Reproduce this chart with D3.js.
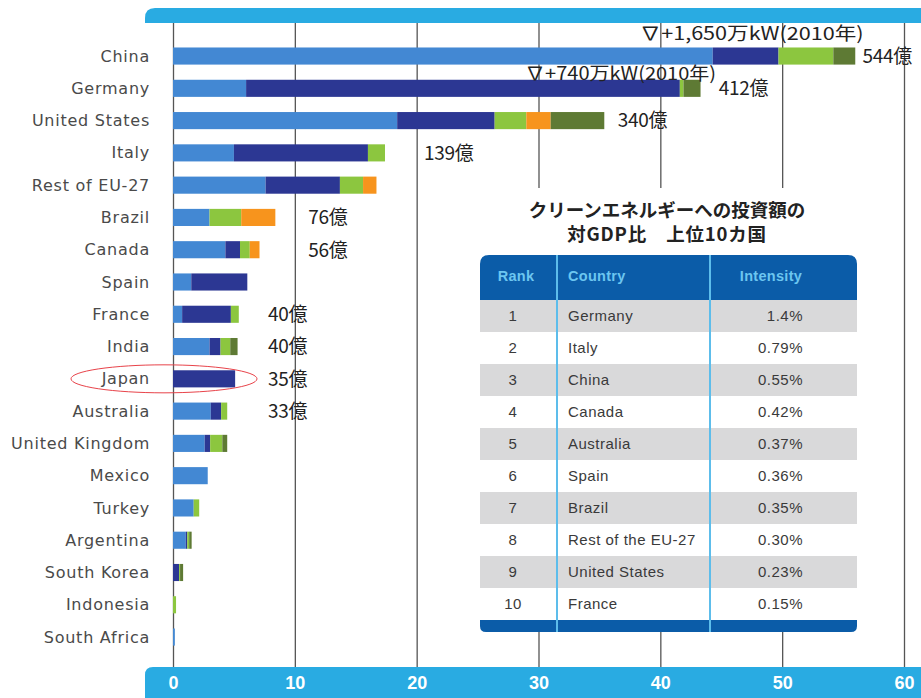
<!DOCTYPE html>
<html>
<head>
<meta charset="utf-8">
<script src="https://cdn.jsdelivr.net/npm/d3@7"></script>
<style>
body { margin: 0; background: #fff; }
text { font-family: "DejaVu Sans", sans-serif; }
</style>
</head>
<body>
<div class="chart-container"></div>
<script>
// Countries, top to bottom
const countries = ["China", "Germany", "United States", "Italy", "Rest of EU-27", "Brazil", "Canada", "Spain",
  "France", "India", "Japan", "Australia", "United Kingdom", "Mexico", "Turkey", "Argentina",
  "South Korea", "Indonesia", "South Africa"];
// stacked segments
const lightBlue = [44.3, 6.0, 18.4, 5.0, 7.6, 3.0, 4.3, 1.5, 0.75, 3.0, 0, 3.1, 2.6, 2.85, 1.7, 1.05, 0, 0, 0.15];
const darkBlue  = [5.4, 35.6, 8.0, 11.0, 6.1, 0, 1.2, 4.6, 4.0, 0.9, 5.1, 0.85, 0.45, 0, 0, 0.12, 0.5, 0, 0];
const green     = [4.5, 0.3, 2.6, 1.4, 1.9, 2.6, 0.8, 0, 0.65, 0.8, 0, 0.5, 1.0, 0, 0.45, 0.16, 0.08, 0.25, 0];
const orange    = [0, 0, 2.0, 0, 1.1, 2.8, 0.8, 0, 0, 0, 0, 0, 0, 0, 0, 0, 0, 0, 0];
const olive     = [1.8, 1.4, 4.4, 0, 0, 0, 0, 0, 0, 0.6, 0, 0, 0.4, 0, 0, 0.2, 0.25, 0, 0];
// investment labels
const valueLabels = [
  {country: "China", text: "544億"}, {country: "Germany", text: "412億"}, {country: "United States", text: "340億"},
  {country: "Italy", text: "139億"}, {country: "Brazil", text: "76億"}, {country: "Canada", text: "56億"},
  {country: "France", text: "40億"}, {country: "India", text: "40億"}, {country: "Japan", text: "35億"},
  {country: "Australia", text: "33億"}];
const notes = [
  {country: "China", text: "∇+1,650万kW(2010年)"},
  {country: "Germany", text: "∇+740万kW(2010年)"}];
const xTicks = [0, 10, 20, 30, 40, 50, 60];
// table: clean energy investment / GDP, top 10
const tableTitle = ["クリーンエネルギーへの投資額の", "対GDP比\u3000上位10カ国"];
const tableHeader = ["Rank", "Country", "Intensity"];
const tableRank = [1, 2, 3, 4, 5, 6, 7, 8, 9, 10];
const tableCountry = ["Germany", "Italy", "China", "Canada", "Australia", "Spain", "Brazil", "Rest of the EU-27", "United States", "France"];
const tableIntensity = ["1.4%", "0.79%", "0.55%", "0.42%", "0.37%", "0.36%", "0.35%", "0.30%", "0.23%", "0.15%"];

const width = 921, height = 698;
const svg = d3.select(".chart-container").append("svg").attr("width", width).attr("height", height);

const keys = ["lightBlue", "darkBlue", "green", "orange", "olive"];
const color = d3.scaleOrdinal().domain(keys).range(["#4388d3", "#2c3793", "#8cc63f", "#f7941d", "#5e7a34"]);
const rows = countries.map((c, i) => ({country: c, lightBlue: lightBlue[i], darkBlue: darkBlue[i], green: green[i], orange: orange[i], olive: olive[i]}));
const stacked = d3.stack().keys(keys)(rows);

const x = d3.scaleLinear().domain([0, 60]).range([173, 904]);
const y = d3.scaleBand().domain(countries).range([39.9, 653.2]).paddingInner(0.47).paddingOuter(0.235);
const bandColor = "#29abe2";
const axisTop = 23, axisBottom = 667;

// top band
svg.append("path")
  .attr("d", `M145,${axisTop} V18 Q145,8 155,8 H${width} V${axisTop} Z`)
  .attr("fill", bandColor);
// bottom band
svg.append("path")
  .attr("d", `M145,${height} V${axisBottom + 8} Q145,${axisBottom} 153,${axisBottom} H${width} V${height} Z`)
  .attr("fill", bandColor);

// grid + tick labels
const xAxis = svg.append("g")
  .attr("transform", `translate(0,${axisBottom})`)
  .call(d3.axisBottom(x).tickValues(xTicks).tickSize(-(axisBottom - axisTop)).tickPadding(9));
xAxis.select(".domain").remove();
xAxis.selectAll("line").attr("stroke", "#555").attr("stroke-width", 1.3);
xAxis.selectAll("text")
  .attr("fill", "#fff")
  .style("font-family", "'Liberation Sans', Arial, sans-serif")
  .style("font-weight", "bold")
  .style("font-size", "18px");

// bars
svg.append("g").selectAll("g")
  .data(stacked)
  .enter().append("g")
  .attr("fill", d => color(d.key))
  .selectAll("rect")
  .data(d => d)
  .enter().append("rect")
  .attr("x", d => x(d[0]))
  .attr("y", d => y(d.data.country))
  .attr("width", d => x(d[1]) - x(d[0]))
  .attr("height", y.bandwidth());

// country labels
svg.append("g").selectAll("text")
  .data(countries)
  .enter().append("text")
  .attr("x", 150)
  .attr("y", d => y(d) + y.bandwidth() / 2)
  .attr("dy", "0.35em")
  .attr("text-anchor", "end")
  .attr("fill", "#4a4a4a")
  .style("font-size", "16px")
  .style("letter-spacing", "0.75px")
  .text(d => d);

// Japan highlight
svg.append("ellipse")
  .attr("cx", 164)
  .attr("cy", y("Japan") + y.bandwidth() / 2)
  .attr("rx", 93).attr("ry", 14)
  .attr("fill", "none")
  .attr("stroke", "#e8434a")
  .attr("stroke-width", 1);

// value labels (placed in columns, not at bar end)
const labelAt = {"China": 56.6, "Germany": 44.8, "United States": 36.5, "Italy": 20.6, "Brazil": 11.1, "Canada": 11.1,
  "France": 7.8, "India": 7.8, "Japan": 7.8, "Australia": 7.8};
svg.append("g").selectAll("text")
  .data(valueLabels)
  .enter().append("text")
  .attr("x", d => x(labelAt[d.country]))
  .attr("y", d => y(d.country) + y.bandwidth() / 2)
  .attr("dy", "0.36em")
  .attr("fill", "#222")
  .style("font-family", "'Noto Sans CJK JP', sans-serif")
  .style("font-size", "19px")
  .style("letter-spacing", "-0.3px")
  .text(d => d.text);

// capacity notes above China / Germany
const noteAt = {"China": [38.3, -23], "Germany": [28.9, -15]};
svg.append("g").selectAll("text")
  .data(notes)
  .enter().append("text")
  .attr("x", d => x(noteAt[d.country][0]))
  .attr("y", d => y(d.country) + y.bandwidth() / 2 + noteAt[d.country][1])
  .attr("dy", "0.36em")
  .attr("fill", "#222")
  .attr("textLength", d => d.country === "China" ? 224 : 191)
  .attr("lengthAdjust", "spacingAndGlyphs")
  .style("font-family", "'Noto Sans CJK JP', sans-serif")
  .style("font-size", "18px")
  .text(d => d.text);

// TABLE
const tL = 480, tR = 857, tTop = 255, headH = 45, rowH = 32, tBottom = 632;
const colX = [557, 710];
const tbl = svg.append("g");
tbl.append("rect").attr("x", tL).attr("y", 188).attr("width", tR - tL).attr("height", tBottom - 188).attr("fill", "#fff");

tbl.selectAll(".ttl")
  .data(tableTitle)
  .enter().append("text")
  .attr("x", 667)
  .attr("y", (d, i) => 210 + i * 24)
  .attr("dy", "0.36em")
  .attr("text-anchor", "middle")
  .attr("fill", "#222")
  .style("font-family", "'Noto Sans CJK JP', sans-serif")
  .style("font-weight", "bold")
  .style("font-size", "18.5px")
  .style("letter-spacing", (d, i) => i ? "0.8px" : "0px")
  .text(d => d);

const tblBlue = "#0b5ca8";
tbl.append("path")
  .attr("d", `M${tL},${tTop + headH} V${tTop + 9} Q${tL},${tTop} ${tL + 9},${tTop} H${tR - 9} Q${tR},${tTop} ${tR},${tTop + 9} V${tTop + headH} Z`)
  .attr("fill", tblBlue);

const rowY = d3.scaleBand().domain(tableRank).range([tTop + headH, tTop + headH + rowH * 10]);
tbl.selectAll(".row")
  .data(tableRank)
  .enter().append("rect")
  .attr("x", tL).attr("width", tR - tL)
  .attr("y", d => rowY(d)).attr("height", rowY.bandwidth())
  .attr("fill", d => d % 2 ? "#d9d9da" : "#fff");

const footY = tTop + headH + rowH * 10;
tbl.append("path")
  .attr("d", `M${tL},${footY} H${tR} V${tBottom - 6} Q${tR},${tBottom} ${tR - 6},${tBottom} H${tL + 6} Q${tL},${tBottom} ${tL},${tBottom - 6} Z`)
  .attr("fill", tblBlue);

colX.forEach(cx => {
  tbl.append("line").attr("x1", cx).attr("x2", cx).attr("y1", tTop).attr("y2", tBottom)
    .attr("stroke", "#5dbdeb").attr("stroke-width", 2);
});

const headX = [516, 568, 771], headAnchor = ["middle", "start", "middle"];
tbl.selectAll(".hd")
  .data(tableHeader)
  .enter().append("text")
  .attr("x", (d, i) => headX[i])
  .attr("y", tTop + 21)
  .attr("dy", "0.35em")
  .attr("text-anchor", (d, i) => headAnchor[i])
  .attr("fill", "#6cc6f0")
  .style("font-family", "'Liberation Sans', Arial, sans-serif")
  .style("font-weight", "bold")
  .style("font-size", "14.5px")
  .style("letter-spacing", "0.3px")
  .text(d => d);

function cell(values, xPos, anchor) {
  tbl.append("g").selectAll("text")
    .data(values)
    .enter().append("text")
    .attr("x", xPos)
    .attr("y", (d, i) => rowY(tableRank[i]) + rowY.bandwidth() / 2)
    .attr("dy", "0.35em")
    .attr("text-anchor", anchor)
    .attr("fill", "#3a3a3a")
    .style("font-family", "'Liberation Sans', Arial, sans-serif")
    .style("font-size", "15px")
    .style("letter-spacing", "0.5px")
    .text(d => d);
}
cell(tableRank, 513, "middle");
cell(tableCountry, 568, "start");
cell(tableIntensity, 803, "end");
</script>
</body>
</html>
